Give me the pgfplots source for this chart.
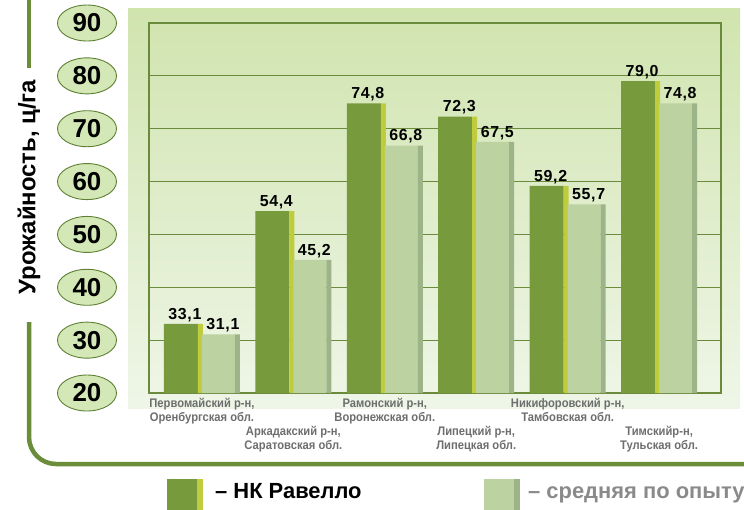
\documentclass[border=0pt]{standalone}
\usepackage{fontspec}
\setmainfont{Liberation Sans}
\newfontfamily\narrowfont[FakeStretch=0.9]{Liberation Sans}
\newfontfamily\valfont[LetterSpace=4]{Liberation Sans}
\usepackage{pgfplots}
\pgfplotsset{compat=1.18}
\usetikzlibrary{shapes.geometric}
\definecolor{bgtop}{HTML}{D0E4AE}
\definecolor{bgbot}{HTML}{EFF6E8}
\definecolor{framec}{HTML}{6A8A3C}
\definecolor{outerc}{HTML}{6B8D3A}
\definecolor{darkbar}{HTML}{779A3C}
\definecolor{darkstrip}{HTML}{BFCC3E}
\definecolor{lightbar}{HTML}{BCD2A0}
\definecolor{lightstrip}{HTML}{9DB488}
\definecolor{ovalfill}{HTML}{D3E8B6}
\definecolor{ovaldraw}{HTML}{5E8034}
\definecolor{labgray}{HTML}{6E6E6E}
\definecolor{leggray}{HTML}{8A8A8A}

\begin{document}
\begin{tikzpicture}
\path[use as bounding box] (0bp,0bp) rectangle (744bp,-510bp);
% background panel
\shade[top color=bgtop, bottom color=bgbot] (128bp,-8bp) rectangle (740bp,-408bp);
% outer decorative border
\draw[outerc, line width=4.5bp] (29bp,0bp) -- (29bp,-68bp);
\draw[outerc, line width=4.5bp] (29bp,-322bp) -- (29bp,-437bp)
  arc[start angle=180, end angle=270, radius=27bp] -- (744bp,-464bp);
\node[rotate=90, font=\bfseries\fontsize{24}{24}\selectfont] at (29bp,-187bp) {Урожайность, ц/га};

\begin{axis}[
  at={(149bp,-393bp)}, anchor=south west,
  scale only axis, width=572bp, height=370bp,
  xmin=-0.579, xmax=5.677, ymin=20, ymax=90,
  ytick={20,30,...,90},
  ymajorgrids, grid style={framec, line width=0.8bp},
  axis line style={framec, line width=1.2bp},
  major tick length=0pt,
  /pgf/number format/assume math mode=true,
  yticklabel style={ellipse, draw=ovaldraw, fill=ovalfill, line width=0.9bp,
    minimum width=59bp, minimum height=36bp, inner sep=0pt,
    anchor=center, xshift=-62bp,
    font=\bfseries\fontsize{26}{26}\selectfont, text=black},
  xtick={0,2,4},
  xticklabels={{Первомайский р-н,\\Оренбургская обл.},
               {Рамонский р-н,\\Воронежская обл.},
               {Никифоровский р-н,\\Тамбовская обл.}},
  extra x ticks={1,3,5},
  extra x tick labels={{Аркадакский р-н,\\Саратовская обл.},
                       {Липецкий р-н,\\Липецкая обл.},
                       {Тимскийр-н,\\Тульская обл.}},
  extra x tick style={xticklabel style={yshift=-28bp}},
  xticklabel style={anchor=north, align=center, inner sep=1bp, yshift=-4bp,
    font=\narrowfont\bfseries\fontsize{12.5}{14}\selectfont, text=labgray},
  nodes near coords style={font=\valfont\bfseries\fontsize{16}{16}\selectfont, text=black},
]
% НК Равелло
\addplot[ybar, bar width=34bp, bar shift=-21bp, fill=darkbar, draw=none,
  nodes near coords, every node near coord/.append style={anchor=south, inner sep=2bp, xshift=-17bp},
  /pgf/number format/.cd, fixed, fixed zerofill, precision=1, use comma]
  coordinates {(0,33.1) (1,54.4) (2,74.8) (3,72.3) (4,59.2) (5,79.0)};
\addplot[ybar, bar width=5bp, bar shift=-1.5bp, fill=darkstrip, draw=none]
  coordinates {(0,33.1) (1,54.4) (2,74.8) (3,72.3) (4,59.2) (5,79.0)};
% средняя по опыту
\addplot[ybar, bar width=33bp, bar shift=16.5bp, fill=lightbar, draw=none,
  nodes near coords, every node near coord/.append style={anchor=south, inner sep=2bp, xshift=21bp},
  /pgf/number format/.cd, fixed, fixed zerofill, precision=1, use comma]
  coordinates {(0,31.1) (1,45.2) (2,66.8) (3,67.5) (4,55.7) (5,74.8)};
\addplot[ybar, bar width=5bp, bar shift=35.5bp, fill=lightstrip, draw=none]
  coordinates {(0,31.1) (1,45.2) (2,66.8) (3,67.5) (4,55.7) (5,74.8)};
\end{axis}

% legend
\begin{scope}
\clip (0bp,0bp) rectangle (744bp,-510bp);
\fill[darkbar] (167bp,-479bp) rectangle (197bp,-512bp);
\fill[darkstrip] (197bp,-479bp) rectangle (203bp,-512bp);
\node[anchor=base west, inner sep=0pt, font=\bfseries\fontsize{22}{22}\selectfont]
  at (215bp,-498bp) {– НК Равелло};
\fill[lightbar] (484bp,-479bp) rectangle (514bp,-512bp);
\fill[lightstrip] (514bp,-479bp) rectangle (520bp,-512bp);
\node[anchor=base west, inner sep=0pt, text=leggray, font=\bfseries\fontsize{22}{22}\selectfont]
  at (528bp,-498bp) {– средняя по опыту};
\end{scope}
\end{tikzpicture}
\end{document}
